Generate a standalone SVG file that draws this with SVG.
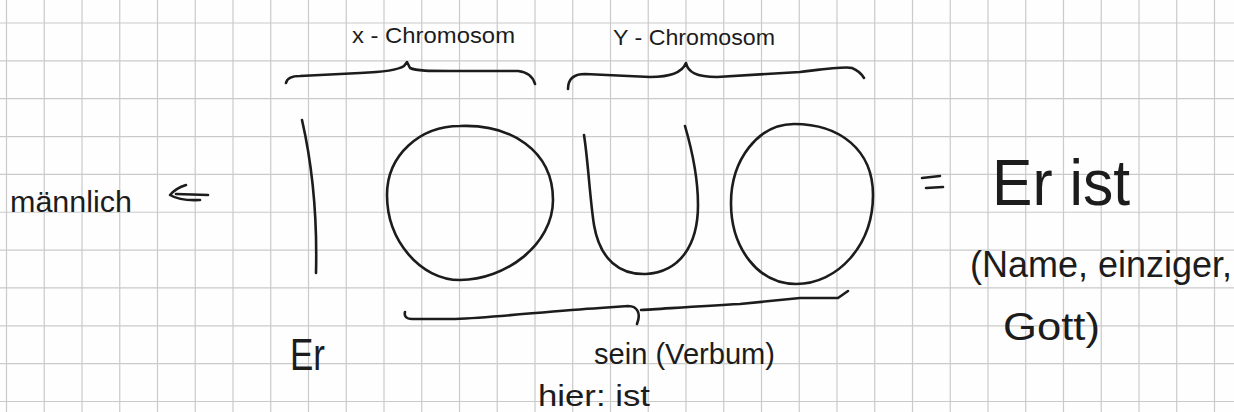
<svg xmlns="http://www.w3.org/2000/svg" width="1234" height="412" viewBox="0 0 1234 412">
<style>
.grid{stroke:#cacaca;stroke-width:1.2;fill:none}
.ink{stroke:#1c1c1c;stroke-width:2.6;fill:none;stroke-linecap:round;stroke-linejoin:round}
.t{font-family:"Liberation Sans",Arial,sans-serif;fill:#1c1c1c}
</style>
<rect width="1234" height="412" fill="#fefefe"/>
<g id="grid">
<path class="grid" d="M6.5,0V412M44.25,0V412M82,0V412M119.75,0V412M157.5,0V412M195.25,0V412M233,0V412M270.75,0V412M308.5,0V412M346.25,0V412M384,0V412M421.75,0V412M459.5,0V412M497.25,0V412M535,0V412M572.75,0V412M610.5,0V412M648.25,0V412M686,0V412M723.75,0V412M761.5,0V412M799.25,0V412M837,0V412M874.75,0V412M912.5,0V412M950.25,0V412M988,0V412M1025.75,0V412M1063.5,0V412M1101.25,0V412M1139,0V412M1176.75,0V412M1214.5,0V412"/>
<path class="grid" d="M0,23H1234M0,60.85H1234M0,98.7H1234M0,136.55H1234M0,174.4H1234M0,212.25H1234M0,250.1H1234M0,287.95H1234M0,325.8H1234M0,363.65H1234M0,401.5H1234"/>
</g>
<g id="connectors">
<path class="ink" d="M286,83 C287,78 292,76 300,76 L360,73 C385,72 398,70 404,66 L407,62 L410,68 C416,71 430,71 450,71 L518,71 C528,72 533,77 535,84"/>
<path class="ink" d="M568,89 C568,80 573,74 585,74 L650,77 C670,77 682,73 686,63 C688,72 696,77 717,77 L800,72 C825,69 845,66 852,68 C857,70 861,73 864,78"/>
<path class="ink" d="M405,312 C404,316 406,319 412,319 L455,319 C500,317 550,311 600,308 L628,306 C638,306 641,314 637,324 M641,310 C660,309 700,306 740,304 L800,298 L838,298 L848,291"/>
<path class="ink" d="M186,185 Q176,188 170,195 Q180,201 200,200 M176,194 L208,195"/>
<path class="ink" d="M922,178 L940,176 M926,188 L943,187"/>
</g>
<g id="bar"><path class="ink" d="M302,120 Q318,190 316,273"/></g>
<g id="x-circle"><path class="ink" d="M460,126 C510,124 553,150 553,200 C553,245 505,280 460,280 C420,280 387,240 387,195 C387,155 420,126 460,126 Z"/></g>
<g id="u-shape"><path class="ink" d="M584,135 C588,160 590,200 594,225 C600,260 620,275 646,274 C680,272 698,245 698,205 C698,175 692,150 685,126"/></g>
<g id="y-circle"><path class="ink" d="M794,124 C840,124 873,150 873,195 C873,245 838,284 796,284 C758,284 731,248 731,203 C731,160 758,124 794,124 Z"/></g>
<g id="label-x"><text class="t" x="352" y="43" font-size="22" textLength="163" lengthAdjust="spacingAndGlyphs">x - Chromosom</text></g>
<g id="label-y"><text class="t" x="613" y="45" font-size="22" textLength="162" lengthAdjust="spacingAndGlyphs">Y - Chromosom</text></g>
<g id="label-maennlich"><text class="t" x="10" y="212" font-size="30" textLength="122" lengthAdjust="spacingAndGlyphs">männlich</text></g>
<g id="label-erist"><text class="t" x="992" y="205" font-size="64" textLength="138" lengthAdjust="spacingAndGlyphs">Er ist</text></g>
<g id="label-name">
<text class="t" x="970" y="277" font-size="36" textLength="262" lengthAdjust="spacingAndGlyphs">(Name, einziger,</text>
<text class="t" x="1003" y="340" font-size="38" textLength="97" lengthAdjust="spacingAndGlyphs">Gott)</text>
</g>
<g id="label-er"><text class="t" x="290" y="370" font-size="44" textLength="35" lengthAdjust="spacingAndGlyphs">Er</text></g>
<g id="label-sein"><text class="t" x="594" y="364" font-size="29" textLength="181" lengthAdjust="spacingAndGlyphs">sein (Verbum)</text></g>
<g id="label-hier"><text class="t" x="538" y="406" font-size="30" textLength="112" lengthAdjust="spacingAndGlyphs">hier: ist</text></g>
</svg>
